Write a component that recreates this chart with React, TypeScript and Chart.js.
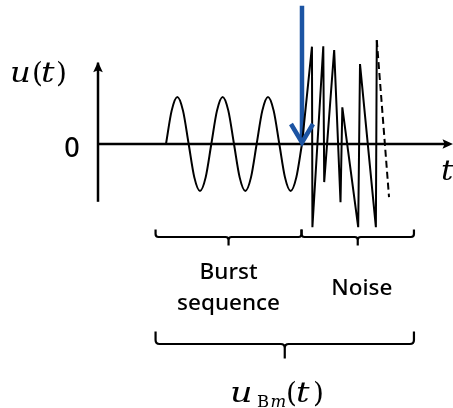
import { useEffect, useRef } from "react";
import { Chart, registerables } from "chart.js";

Chart.register(...registerables);

// ---------- data (t in burst periods, u in burst amplitudes) ----------
const burstT = [1.5, 1.625, 1.75, 1.875, 2, 2.125, 2.25, 2.375, 2.5, 2.625, 2.75, 2.875, 3, 3.125, 3.25, 3.375, 3.5, 3.625, 3.75, 3.875, 4, 4.125, 4.25, 4.375, 4.5];
const burstU = [0, 0.71, 1, 0.71, 0, -0.71, -1, -0.71, 0, 0.71, 1, 0.71, 0, -0.71, -1, -0.71, 0, 0.71, 1, 0.71, 0, -0.71, -1, -0.71, 0];

const noiseT = [4.5, 4.72, 4.73, 4.97, 4.99, 5.21, 5.35, 5.39, 5.74, 5.78, 6.13, 6.15];
const noiseU = [0, 2.07, -1.77, 2.08, -0.81, 2.0, -1.24, 0.78, -1.77, 1.7, -1.77, 2.21];

const tailT = [6.15, 6.42];
const tailU = [2.21, -1.13];

const axisT = [0, 7.81]; // horizontal axis extent
const axisU = [-1.23, 1.73]; // vertical axis extent

const markerT = [4.5, 4.5]; // blue arrow (start of noise)
const markerU = [2.94, 0];

// brace spans in t
const burstSpan = [1.27, 4.49];
const noiseSpan = [4.49, 6.97];
const totalSpan = [1.27, 6.97];

const burstLabel = ["Burst", "sequence"];
const noiseLabel = "Noise";
const zeroLabel = "0";

// ---------- layout ----------
const W = 453;
const H = 408;
const ORIGIN_X = 98;
const ORIGIN_Y = 144;
const PX_T = 45.33;
const PX_U = 47;

const BLUE = "#1c54a3";
const INK = "#000000";
const MATH = "'DejaVu Serif', serif";
const SANS = "'Noto Sans', 'Open Sans', sans-serif";

const pts = (xs: number[], ys: number[]) => xs.map((x, i) => ({ x, y: ys[i] }));

function drawBrace(ctx: CanvasRenderingContext2D, x1: number, x2: number, yTop: number, yLine: number, yTick: number, r: number) {
  const xm = (x1 + x2) / 2;
  ctx.beginPath();
  ctx.moveTo(x1, yTop);
  ctx.lineTo(x1, yLine - r);
  ctx.quadraticCurveTo(x1, yLine, x1 + r, yLine);
  ctx.lineTo(xm - r, yLine);
  ctx.quadraticCurveTo(xm, yLine, xm, yLine + r);
  ctx.lineTo(xm, yTick);
  ctx.moveTo(xm, yLine + r);
  ctx.quadraticCurveTo(xm, yLine, xm + r, yLine);
  ctx.lineTo(x2 - r, yLine);
  ctx.quadraticCurveTo(x2, yLine, x2, yLine - r);
  ctx.lineTo(x2, yTop);
  ctx.stroke();
}

type Part = { s: string; x: number; y: number; font: string; sx?: number };

function drawRun(ctx: CanvasRenderingContext2D, parts: Part[]) {
  ctx.textAlign = "left";
  ctx.textBaseline = "alphabetic";
  for (const p of parts) {
    ctx.save();
    ctx.font = p.font;
    ctx.translate(p.x, p.y);
    ctx.scale(p.sx ?? 1, 1);
    ctx.fillText(p.s, 0, 0);
    ctx.restore();
  }
}

const overlay = {
  id: "overlay",
  afterDatasetsDraw(chart: any) {
    const ctx: CanvasRenderingContext2D = chart.ctx;
    const xs = chart.scales.x;
    const ys = chart.scales.y;
    const px = (t: number) => xs.getPixelForValue(t);
    const py = (u: number) => ys.getPixelForValue(u);
    ctx.save();
    ctx.fillStyle = INK;
    ctx.strokeStyle = INK;

    // axis arrowheads
    const ox = px(0);
    const vt = py(axisU[1]);
    ctx.beginPath();
    ctx.moveTo(ox, vt - 1);
    ctx.lineTo(ox - 4.8, vt + 9.5);
    ctx.lineTo(ox, vt + 7.5);
    ctx.lineTo(ox + 4.8, vt + 9.5);
    ctx.closePath();
    ctx.fill();
    const ht = px(axisT[1]);
    const oy = py(0);
    ctx.beginPath();
    ctx.moveTo(ht + 1, oy);
    ctx.lineTo(ht - 9.5, oy - 4.8);
    ctx.lineTo(ht - 7.5, oy);
    ctx.lineTo(ht - 9.5, oy + 4.8);
    ctx.closePath();
    ctx.fill();

    // blue arrow head (chevron)
    const bx = px(markerT[1]);
    const by = py(markerU[1]);
    ctx.strokeStyle = BLUE;
    ctx.lineWidth = 4.5;
    ctx.lineJoin = "miter";
    ctx.lineCap = "butt";
    ctx.beginPath();
    ctx.moveTo(bx - 11, by - 20);
    ctx.lineTo(bx, by - 1.5);
    ctx.lineTo(bx + 11, by - 20);
    ctx.stroke();

    // braces
    ctx.strokeStyle = INK;
    ctx.lineWidth = 2.2;
    ctx.lineJoin = "round";
    drawBrace(ctx, px(burstSpan[0]), px(burstSpan[1]), 229.5, 237, 245.5, 3);
    drawBrace(ctx, px(noiseSpan[0]), px(noiseSpan[1]), 229.5, 237, 245.5, 3);
    drawBrace(ctx, px(totalSpan[0]), px(totalSpan[1]), 331.5, 344, 358.5, 4);

    // sans labels
    ctx.fillStyle = INK;
    ctx.textAlign = "center";
    ctx.textBaseline = "alphabetic";
    ctx.font = `500 22.5px ${SANS}`;
    const bc = (px(burstSpan[0]) + px(burstSpan[1])) / 2;
    ctx.fillText(burstLabel[0], bc, 279);
    ctx.fillText(burstLabel[1], bc, 310);
    const nc = (px(noiseSpan[0]) + px(noiseSpan[1])) / 2 + 4;
    ctx.fillText(noiseLabel, nc, 295);
    ctx.font = `500 27px ${SANS}`;
    ctx.fillText(zeroLabel, ox - 26, oy + 12.5);

    // math labels
    const it = `italic 28px ${MATH}`;
    const up = `28px ${MATH}`;
    drawRun(ctx, [
      { s: "u", x: 10, y: 82, font: it, sx: 1.15 },
      { s: "(", x: 32, y: 82, font: up },
      { s: "t", x: 41, y: 82, font: it, sx: 1.2 },
      { s: ")", x: 56, y: 82, font: up },
    ]);
    drawRun(ctx, [{ s: "t", x: 441, y: 180, font: it, sx: 1.1 }]);
    drawRun(ctx, [
      { s: "u", x: 230, y: 402, font: it, sx: 1.25 },
      { s: "B", x: 257, y: 406.5, font: `16.5px ${MATH}` },
      { s: "m", x: 270.5, y: 406.5, font: `italic 16.5px ${MATH}` },
      { s: "(", x: 286, y: 402, font: up },
      { s: "t", x: 296, y: 402, font: it, sx: 1.2 },
      { s: ")", x: 313, y: 402, font: up },
    ]);
    ctx.restore();
  },
};

export default function App() {
  const ref = useRef<HTMLCanvasElement | null>(null);
  useEffect(() => {
    if (!ref.current) return;
    const line = (data: any[], extra: any = {}) => ({
      data,
      showLine: true,
      pointRadius: 0,
      borderColor: INK,
      borderWidth: 2,
      fill: false,
      ...extra,
    });
    const chart = new Chart(ref.current, {
      type: "scatter",
      data: {
        datasets: [
          line(pts([0, 0], axisU), { borderWidth: 2.5 }),
          line(pts(axisT.map((t, i) => (i === 1 ? t - 0.15 : t)), [0, 0]), { borderWidth: 2.5 }),
          line(pts(burstT, burstU), { cubicInterpolationMode: "monotone" }),
          line(pts(noiseT, noiseU), { tension: 0, borderJoinStyle: "miter" }),
          line(pts(tailT, tailU), { borderDash: [7, 4] }),
          line(pts(markerT, markerU), { borderColor: BLUE, borderWidth: 4.5 }),
        ],
      },
      options: {
        animation: false,
        responsive: false,
        devicePixelRatio: 1,
        layout: { padding: 0 },
        events: [],
        plugins: { legend: { display: false }, tooltip: { enabled: false } },
        scales: {
          x: { type: "linear", display: false, min: -ORIGIN_X / PX_T, max: (W - ORIGIN_X) / PX_T },
          y: { type: "linear", display: false, min: -(H - ORIGIN_Y) / PX_U, max: ORIGIN_Y / PX_U },
        },
      },
      plugins: [overlay],
    });
    return () => chart.destroy();
  }, []);
  return (
    <div style={{ position: "fixed", left: 0, top: 0, width: W, height: H, background: "#fff" }}>
      <canvas ref={ref} width={W} height={H} style={{ width: W, height: H, display: "block" }} />
    </div>
  );
}
